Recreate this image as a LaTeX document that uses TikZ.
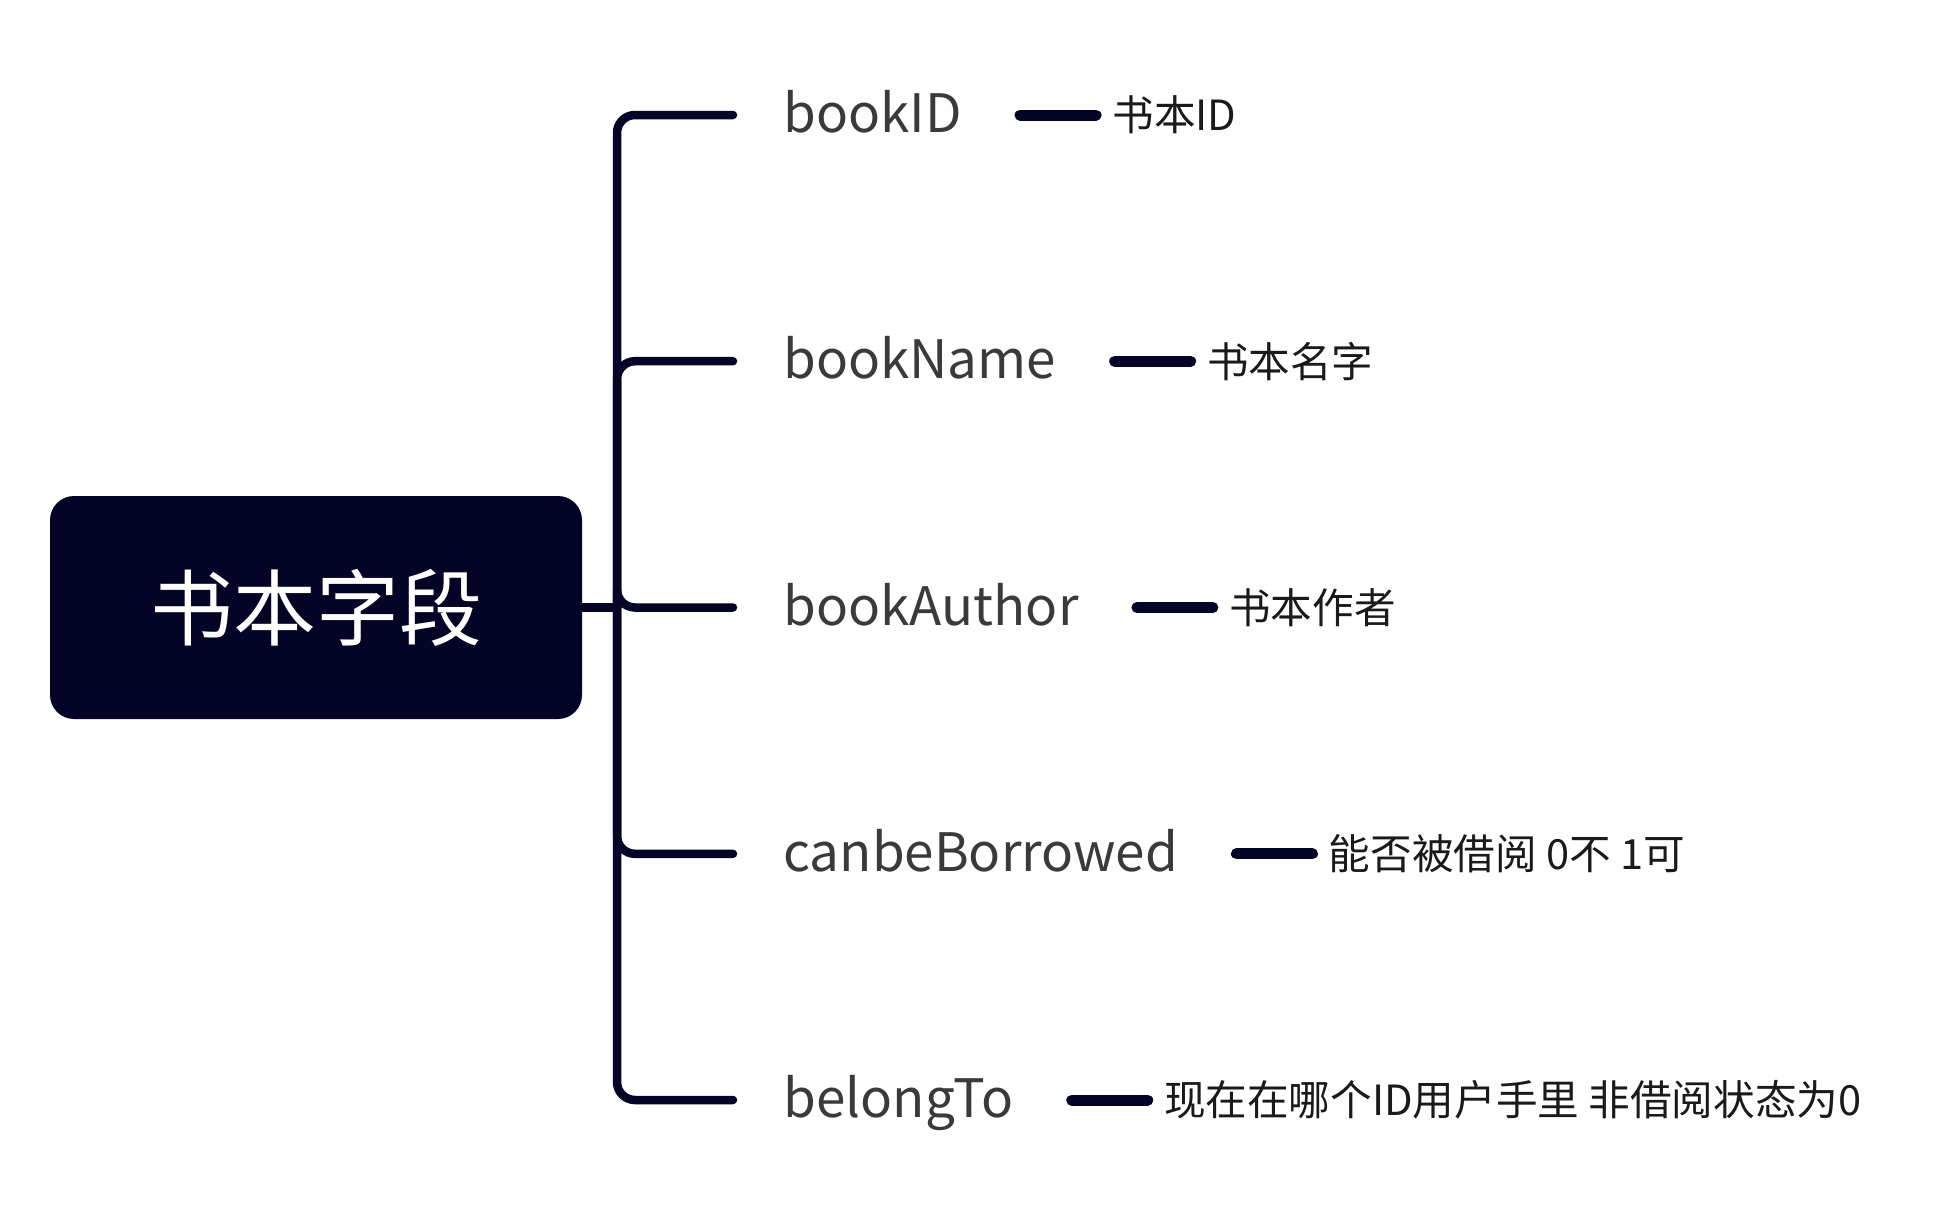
\documentclass[tikz,border=0pt]{standalone}
\usepackage{fontspec}
\setmainfont{Noto Sans CJK SC}
\usepackage{tikz}
\usetikzlibrary{positioning}
\definecolor{navy}{RGB}{3,4,38}
\definecolor{fieldgray}{RGB}{58,58,58}
\definecolor{notegray}{RGB}{26,26,26}

\begin{document}
\begin{tikzpicture}[x=1pt, y=1pt,
    rootnode/.style = {fill=navy, rounded corners=12pt, minimum width=266pt,
      minimum height=111.5pt, text=white, font=\fontsize{41.5}{48}\selectfont},
    field/.style = {anchor=west, inner sep=0pt, text=fieldgray, text height=17.5pt,
      text depth=0pt, font=\fontsize{26.5}{32}\selectfont},
    note/.style = {inner sep=0pt, text=notegray, text height=15.8pt, text depth=0pt,
      font=\fontsize{20.8}{24}\selectfont},
    branch/.style = {draw=navy, line width=4.25pt, line cap=round, rounded corners=9pt},
    twig/.style = {draw=navy, line width=5.5pt, line cap=round, shorten <=29pt,
      shorten >=8pt}]
    \useasboundingbox (0,0) rectangle (971,-608);
    \node [rootnode] (root) at (158,-303.75) {书本字段};
    \coordinate (trunk) at (308.5,-303.75);
    % fields
    \node [field] (bookid) at (391.5,-57.5) {bookID};
    \node [field] (bookname) at (391.5,-180.6) {bookName};
    \node [field] (bookauthor) at (391.5,-303.75) {bookAuthor};
    \node [field] (borrowed) at (391.5,-426.9) {canbeBorrowed};
    \node [field] (belongto) at (391.5,-550) {belongTo};
    % notes
    \node [note, right=75pt of bookid] (idnote) {书本ID};
    \node [note, right=75pt of bookname] (namenote) {书本名字};
    \node [note, right=75pt of bookauthor] (authornote) {书本作者};
    \node [note, right=75pt of borrowed] (borrownote) {能否被借阅 0不 1可};
    \node [note, right=75pt of belongto] (belongnote) {现在在哪个ID用户手里 非借阅状态为0};
    \draw [branch] (root.east) -- (trunk);
    \foreach \f in {bookid,bookname,bookauthor,borrowed,belongto}
      \draw [branch] (trunk) |- ([xshift=-25pt]\f.west);
    \draw [twig] (bookid.east) -- (idnote.west);
    \draw [twig] (bookname.east) -- (namenote.west);
    \draw [twig] (bookauthor.east) -- (authornote.west);
    \draw [twig] (borrowed.east) -- (borrownote.west);
    \draw [twig] (belongto.east) -- (belongnote.west);
\end{tikzpicture}
\end{document}
